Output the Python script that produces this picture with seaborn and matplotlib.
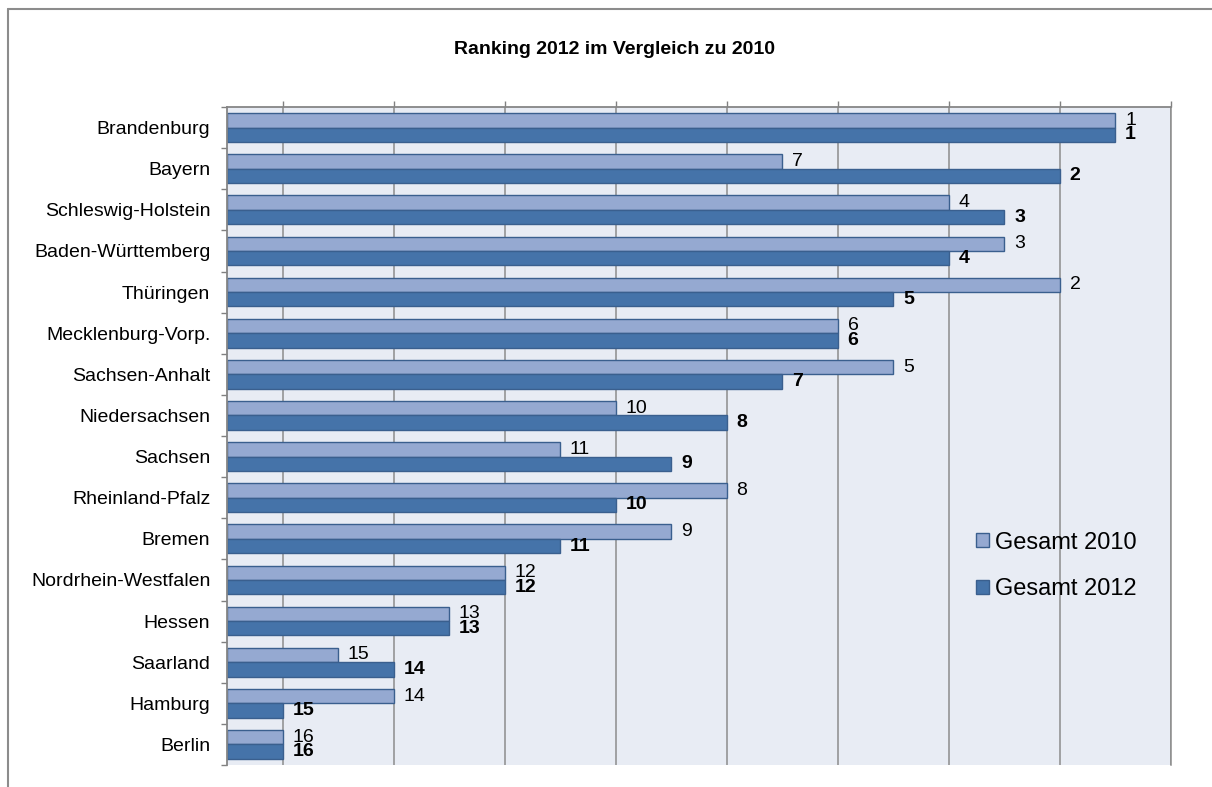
import numpy as np
import pandas as pd
import matplotlib
matplotlib.use("Agg")
import matplotlib.pyplot as plt
import seaborn as sns
from matplotlib.lines import Line2D
from matplotlib.patches import Patch

# Bundesländer in ranking order (2012)
laender = [
    "Brandenburg", "Bayern", "Schleswig-Holstein", "Baden-Württemberg",
    "Thüringen", "Mecklenburg-Vorp.", "Sachsen-Anhalt", "Niedersachsen",
    "Sachsen", "Rheinland-Pfalz", "Bremen", "Nordrhein-Westfalen",
    "Hessen", "Saarland", "Hamburg", "Berlin",
]
serien = ["Gesamt 2010", "Gesamt 2012"]

# Overall score per state (bar length)
punkte_2010 = [16, 10, 13, 14, 15, 11, 12, 7, 6, 9, 8, 5, 4, 2, 3, 1]
punkte_2012 = [16, 15, 14, 13, 12, 11, 10, 9, 8, 7, 6, 5, 4, 3, 1, 1]

# Rank per state (bar labels)
rang_2010 = [1, 7, 4, 3, 2, 6, 5, 10, 11, 8, 9, 12, 13, 15, 14, 16]
rang_2012 = [1, 2, 3, 4, 5, 6, 7, 8, 9, 10, 11, 12, 13, 14, 15, 16]

farbe_2010 = "#95A9D1"
farbe_2012 = "#4573A9"
kante = "#3A5F8E"
grau = "#8C8C8C"

df = pd.DataFrame({
    "Land": laender * 2,
    "Punkte": punkte_2010 + punkte_2012,
    "Serie": [serien[0]] * len(laender) + [serien[1]] * len(laender),
})

sns.set_theme(style="white")
plt.rcParams["font.family"] = ["Liberation Sans", "DejaVu Sans"]
plt.rcParams["text.color"] = "black"

W, H = 1212, 787
fig = plt.figure(figsize=(W / 100, H / 100), dpi=100)
ax = fig.add_axes([227 / W, 1 - 765 / H, (1171 - 227) / W, (765 - 107) / H])

sns.barplot(
    data=df, y="Land", x="Punkte", hue="Serie", order=laender,
    hue_order=serien, palette=[farbe_2010, farbe_2012], saturation=1,
    width=0.7, gap=0, edgecolor=kante, linewidth=1, orient="h", ax=ax,
    zorder=2,
)

ax.set_xlim(0, 17)
ax.set_ylim(15.5, -0.5)
ax.set_facecolor("#E8ECF4")
for x in range(1, 18, 2):
    ax.axvline(x, color=grau, lw=1.1, zorder=1)

# value axis on top, no labels
ax.xaxis.tick_top()
ax.set_xticks(range(1, 18, 2))
ax.set_xticklabels([])
ax.tick_params(axis="x", which="major", direction="out", length=4.5,
               width=1, color="#808080", top=True, bottom=False)
ax.set_xlabel("")
ax.set_ylabel("")

# category axis: labels centred, ticks on category boundaries
ax.set_yticks(range(len(laender)))
ax.set_yticklabels(laender, fontsize=14, color="black")
ax.tick_params(axis="y", which="major", length=0, pad=12)
ax.set_yticks(np.arange(-0.5, len(laender), 1), minor=True)
ax.tick_params(axis="y", which="minor", direction="out", length=4,
               width=1, color="#808080", left=True)

for side in ["top", "left"]:
    ax.spines[side].set_visible(True)
    ax.spines[side].set_color("#868686")
    ax.spines[side].set_linewidth(1.3)
ax.spines["bottom"].set_visible(False)
ax.spines["right"].set_visible(True)
ax.spines["right"].set_color(grau)
ax.spines["right"].set_linewidth(1.1)

for cont, raenge, gewicht in zip(ax.containers, [rang_2010, rang_2012],
                                 ["normal", "bold"]):
    ax.bar_label(cont, labels=[str(r) for r in raenge], padding=7,
                 fontsize=14, fontweight=gewicht, color="black")

if ax.get_legend() is not None:
    ax.get_legend().remove()
handles = [Patch(facecolor=farbe_2010, edgecolor=kante, linewidth=1),
           Patch(facecolor=farbe_2012, edgecolor=kante, linewidth=1)]
fig.legend(handles, serien, loc="center left",
           bbox_to_anchor=(976 / W, 1 - 566 / H), frameon=False,
           fontsize=17, handlelength=0.55, handleheight=0.55,
           handletextpad=0.25, labelspacing=1.05, borderpad=0,
           borderaxespad=0, labelcolor="black")

fig.text(614 / W, 1 - 49 / H, "Ranking 2012 im Vergleich zu 2010",
         ha="center", va="center", fontsize=14, fontweight="bold",
         color="black")

# chart frame
fig.add_artist(Line2D([8 / W, 1], [1 - 9 / H, 1 - 9 / H],
                      transform=fig.transFigure, color=grau, lw=1.5))
fig.add_artist(Line2D([8 / W, 8 / W], [0, 1 - 9 / H],
                      transform=fig.transFigure, color=grau, lw=1.5))

fig.savefig("out.png", dpi=100)
